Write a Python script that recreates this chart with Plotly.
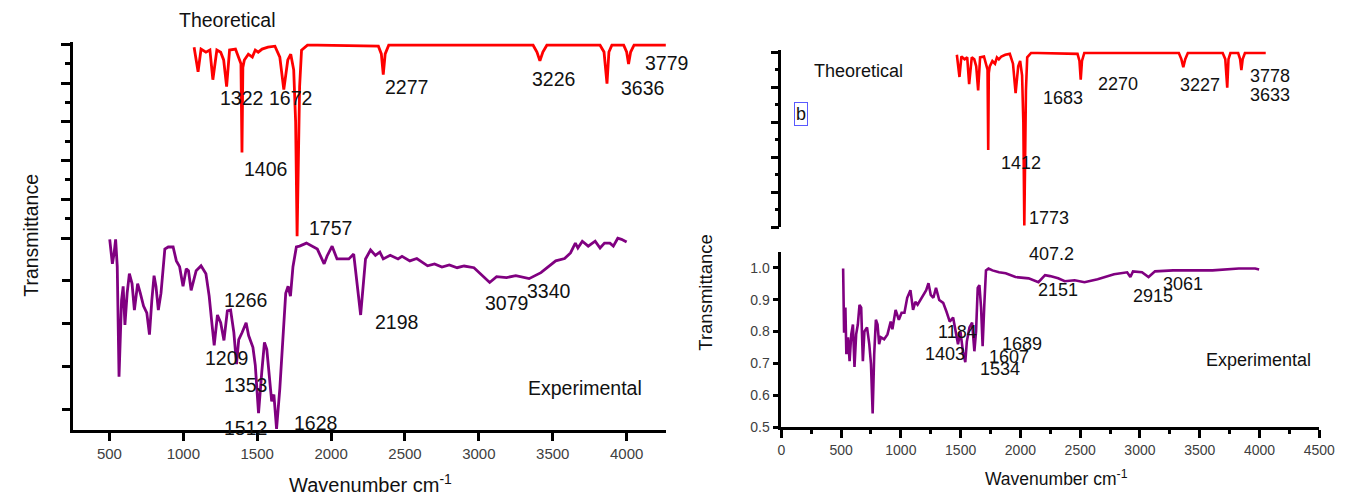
import plotly.graph_objects as go

W, H = 1352, 501

# ---------------- data ----------------
# theoretical spectrum (relative transmittance, 0-100), wavenumber as plotted
theo_wn = [1073, 1100, 1120, 1153, 1180, 1200, 1227, 1253, 1273, 1293, 1313, 1353, 1373, 1390,
           1397, 1403, 1413, 1440, 1467, 1487, 1507, 1533, 1573, 1620, 1653, 1680, 1707, 1727,
           1747, 1760, 1770, 1778, 1787, 1800, 1840, 1907, 2320, 2340, 2353, 2366, 2390, 3367,
           3393, 3413, 3433, 3460, 3820, 3847, 3867, 3880, 3900, 3980, 4000, 4013, 4027, 4050, 4265]
theo_T = [98.5, 85.8, 97.5, 95.9, 97.0, 81.7, 97.0, 95.9, 91.9, 78.2, 97.0, 97.5, 93.4, 90.0,
          44.2, 88.0, 91.9, 94.9, 93.4, 97.0, 95.9, 97.5, 98.5, 99.0, 93.4, 76.6, 91.9, 94.9,
          86.8, 60.0, 1.0, 50.0, 78.2, 97.0, 99.5, 99.5, 99.0, 95.0, 84.3, 95.0, 99.5, 99.5,
          96.0, 91.4, 96.0, 99.5, 99.5, 96.0, 79.7, 96.0, 99.5, 99.5, 96.0, 89.8, 96.0, 99.5, 99.5]

# experimental spectrum, panel (a) (arbitrary transmittance units)
expL_wn = [502, 520, 531, 542, 553, 565, 582, 593, 605, 620, 635, 653, 669, 691, 709, 731, 753,
           771, 787, 802, 815, 831, 849, 875, 898, 931, 953, 975, 998, 1020, 1035, 1053, 1087,
           1120, 1153, 1175, 1191, 1209, 1231, 1253, 1275, 1298, 1320, 1342, 1360, 1375, 1398,
           1425, 1442, 1471, 1487, 1509, 1531, 1549, 1565, 1582, 1598, 1613, 1631, 1653, 1671,
           1693, 1709, 1725, 1742, 1765, 1787, 1833, 1907, 1953, 1973, 2007, 2040, 2073, 2120,
           2153, 2187, 2200, 2233, 2267, 2300, 2330, 2353, 2400, 2453, 2480, 2533, 2580, 2653,
           2700, 2750, 2800, 2853, 2900, 2967, 3033, 3073, 3120, 3187, 3250, 3340, 3420, 3520,
           3580, 3620, 3653, 3670, 3700, 3740, 3787, 3820, 3850, 3887, 3910, 3940, 3965, 4000]
expL_T = [99.5, 88.0, 92.6, 99.5, 86.7, 35.2, 71.0, 77.5, 59.5, 74.3, 83.4, 78.8, 66.4, 78.8,
          74.3, 68.3, 65.1, 54.9, 71.0, 82.5, 77.5, 66.4, 74.3, 94.9, 95.9, 95.9, 89.4, 86.7,
          77.5, 85.7, 84.8, 75.6, 84.8, 87.1, 83.4, 72.9, 61.8, 49.9, 64.1, 60.5, 52.2, 66.0,
          66.4, 55.9, 41.1, 52.6, 55.9, 60.5, 54.5, 49.0, 40.7, 18.2, 37.5, 51.3, 48.0, 34.2,
          23.7, 26.9, 10.8, 29.7, 52.6, 74.3, 77.5, 72.9, 86.7, 95.9, 96.3, 97.7, 94.9, 88.0,
          91.7, 96.3, 90.3, 90.3, 90.3, 92.6, 72.4, 64.1, 90.3, 94.5, 92.0, 93.5, 90.3, 92.0,
          90.3, 91.5, 89.4, 90.5, 87.1, 88.0, 86.5, 87.5, 86.2, 87.0, 86.2, 81.6, 79.3, 82.0,
          81.6, 82.5, 81.1, 83.9, 89.4, 90.5, 93.1, 97.7, 95.4, 98.6, 96.3, 98.6, 95.4, 97.7,
          97.7, 96.3, 100.0, 99.5, 98.2]

# experimental spectrum, panel (b) (transmittance)
expR_wn = [517, 525, 536, 544, 558, 571, 585, 599, 612, 626, 640, 654, 668, 682, 695, 717, 736,
           750, 764, 777, 791, 805, 818, 832, 860, 888, 915, 929, 956, 983, 1006, 1030, 1053,
           1080, 1102, 1121, 1140, 1162, 1189, 1212, 1231, 1250, 1272, 1294, 1321, 1354, 1382,
           1409, 1437, 1459, 1478, 1498, 1519, 1539, 1552, 1574, 1596, 1615, 1629, 1643, 1657,
           1671, 1684, 1698, 1712, 1733, 1766, 1821, 1877, 1959, 2041, 2069, 2151, 2206, 2248,
           2316, 2371, 2454, 2536, 2646, 2783, 2893, 2920, 2942, 3017, 3072, 3126, 3278, 3443,
           3607, 3827, 3964, 3997]
expR_T = [0.998, 0.796, 0.875, 0.729, 0.782, 0.707, 0.791, 0.822, 0.689, 0.791, 0.822, 0.884,
          0.875, 0.707, 0.800, 0.813, 0.760, 0.698, 0.543, 0.729, 0.837, 0.822, 0.760, 0.782,
          0.776, 0.791, 0.831, 0.807, 0.868, 0.837, 0.859, 0.859, 0.906, 0.930, 0.868, 0.893,
          0.884, 0.899, 0.915, 0.930, 0.952, 0.915, 0.906, 0.937, 0.899, 0.890, 0.862, 0.831,
          0.844, 0.791, 0.760, 0.800, 0.738, 0.704, 0.769, 0.813, 0.828, 0.738, 0.800, 0.937,
          0.946, 0.875, 0.754, 0.884, 0.992, 0.998, 0.992, 0.986, 0.983, 0.971, 0.967, 0.967,
          0.955, 0.977, 0.974, 0.967, 0.958, 0.961, 0.955, 0.964, 0.980, 0.986, 0.971, 0.989,
          0.986, 0.971, 0.989, 0.992, 0.992, 0.992, 0.998, 0.998, 0.995]

# peak labels: (text, wavenumber position, y position) in each panel's data units
labels_theo_a = [("1322", 1397, 72.1), ("1672", 1727, 72.1), ("1406", 1553, 35.5),
                 ("1757", 1993, 5.1), ("2277", 2507, 78.2), ("3226", 3507, 82.2),
                 ("3636", 4107, 77.2)]
labels_exp_a = [("1266", 1420, 71.0), ("1209", 1293, 43.9), ("1353", 1420, 31.5),
                ("1512", 1420, 11.3), ("1628", 1893, 13.6), ("2198", 2440, 60.9),
                ("3079", 3187, 69.7), ("3340", 3473, 75.2)]
labels_theo_b = [("1412", 1733, 36.5), ("1773", 2028, 5.1), ("1683", 2171, 73.6),
                 ("2270", 2741, 82.0), ("3227", 3587, 81.5), ("3778", 4310, 86.5),
                 ("3633", 4310, 75.8)]
labels_exp_b = [("407.2", 2258, 1.045), ("2151", 2316, 0.930), ("2915", 3107, 0.912),
                ("3061", 3363, 0.949), ("1689", 2011, 0.760), ("1607", 1904, 0.720),
                ("1534", 1830, 0.683), ("1184", 1475, 0.797), ("1403", 1368, 0.729)]

ticks_a = [500, 1000, 1500, 2000, 2500, 3000, 3500, 4000]

# ---------------- styling helpers ----------------
FONT = "Arial, 'Liberation Sans', sans-serif"
RED = "#ff0000"
PURPLE = "#800080"
TICKC = "#404040"


def px_x(p):
    return p / W


def px_y(p):
    return 1 - p / H


fig = go.Figure()
fig.add_trace(go.Scatter(x=expL_wn, y=expL_T, mode="lines", xaxis="x", yaxis="y",
                         line=dict(color=PURPLE, width=2.8), showlegend=False))
fig.add_trace(go.Scatter(x=theo_wn, y=theo_T, mode="lines", xaxis="x2", yaxis="y2",
                         line=dict(color=RED, width=2.8), showlegend=False))
fig.add_trace(go.Scatter(x=expR_wn, y=expR_T, mode="lines", xaxis="x3", yaxis="y3",
                         line=dict(color=PURPLE, width=2.6), showlegend=False))
fig.add_trace(go.Scatter(x=theo_wn, y=theo_T, mode="lines", xaxis="x4", yaxis="y4",
                         line=dict(color=RED, width=2.6), showlegend=False))

axis_common = dict(showgrid=False, zeroline=False, showline=True, linecolor="black",
                   ticks="outside", tickcolor="black", fixedrange=True)

xdomL = [px_x(70), px_x(672)]
xdomR = [px_x(789), px_x(1335)]

layout = dict(
    width=W, height=H, margin=dict(l=0, r=0, t=0, b=0),
    paper_bgcolor="white", plot_bgcolor="rgba(0,0,0,0)",
    font=dict(family=FONT, color="#111111"),
    xaxis=dict(domain=xdomL, range=[253.3, 4266.7], anchor="y", tickvals=ticks_a,
               linewidth=3, tickwidth=3, ticklen=8,
               tickfont=dict(size=15, color=TICKC), **axis_common),
    yaxis=dict(domain=[px_y(437), px_y(236)], range=[10.3, 102.8], anchor="x",
               tickvals=[20, 40, 60, 80, 100], showticklabels=False,
               linewidth=3, tickwidth=3, ticklen=8, **axis_common),
    xaxis2=dict(domain=xdomL, range=[253.3, 4266.7], anchor="y2", visible=False),
    yaxis2=dict(domain=[px_y(242), px_y(43)], range=[0, 101], anchor="x2",
                tickvals=[0, 20, 40, 60, 80, 100], showticklabels=False,
                linewidth=3, tickwidth=3, ticklen=9,
                minor=dict(dtick=10, ticklen=5, tickwidth=3, ticks="outside", tickcolor="black"),
                **axis_common),
    xaxis3=dict(domain=xdomR, range=[0, 4500], anchor="y3", dtick=500, tick0=0,
                linewidth=2.5, tickwidth=2.5, ticklen=8,
                minor=dict(dtick=250, ticklen=4, tickwidth=2.5, ticks="outside", tickcolor="black"),
                tickfont=dict(size=14, color=TICKC), **axis_common),
    yaxis3=dict(domain=[px_y(434), px_y(256)], range=[0.5, 1.05], anchor="x3",
                tickvals=[0.5, 0.6, 0.7, 0.8, 0.9, 1.0], tickformat=".1f",
                linewidth=2.5, tickwidth=2.5, ticklen=6,
                tickfont=dict(size=14, color=TICKC), **axis_common),
    xaxis4=dict(domain=xdomR, range=[-741, 4818], anchor="y4", visible=False),
    yaxis4=dict(domain=[px_y(231), px_y(51)], range=[0, 101.1], anchor="x4",
                tickvals=[0, 20, 40, 60, 80, 100], showticklabels=False,
                linewidth=2.5, tickwidth=2.5, ticklen=8,
                minor=dict(dtick=10, ticklen=4, tickwidth=2.5, ticks="outside", tickcolor="black"),
                **axis_common),
)

ann = []


def lab(text, x, y, xr, yr, size, **kw):
    ann.append(dict(text=text, x=x, y=y, xref=xr, yref=yr, showarrow=False,
                    xanchor="center", yanchor="middle",
                    font=dict(size=size, family=FONT, color="#111111"), **kw))


SA, SB = 19.5, 18
for t, x, y in labels_theo_a:
    lab(t, x, y, "x2", "y2", SA)
for t, x, y in labels_exp_a:
    lab(t, x, y, "x", "y", SA)
for t, x, y in labels_theo_b:
    lab(t, x, y, "x4", "y4", SB)
for t, x, y in labels_exp_b:
    lab(t, x, y, "x3", "y3", SB)

# labels lying beyond the plotted area of panel (a)
lab("3779", px_x(672), px_y(64), "paper", "paper", SA)
lab("Theoretical", px_x(226), px_y(20), "paper", "paper", SA)

# panel texts
lab("Experimental", 3720, 30.1, "x", "y", SA)
lab("Theoretical", 53, 89.3, "x4", "y4", SB)
lab("Experimental", 3989, 0.711, "x3", "y3", SB)
lab("b", -538, 64.6, "x4", "y4", SB, bordercolor="#5a5aff", borderwidth=1, borderpad=1)

# axis titles
lab("Transmittance", px_x(28), px_y(239), "paper", "paper", 19.5, textangle=-90)
lab("Transmittance", px_x(712), px_y(297), "paper", "paper", 18.5, textangle=-90)
lab("Wavenumber cm<sup>-1</sup>", px_x(372), px_y(491), "paper", "paper", 20)
lab("Wavenumber cm<sup>-1</sup>", px_x(1068), px_y(486), "paper", "paper", 17.5)

layout["annotations"] = ann
fig.update_layout(**layout)
fig.write_html("out.html")
